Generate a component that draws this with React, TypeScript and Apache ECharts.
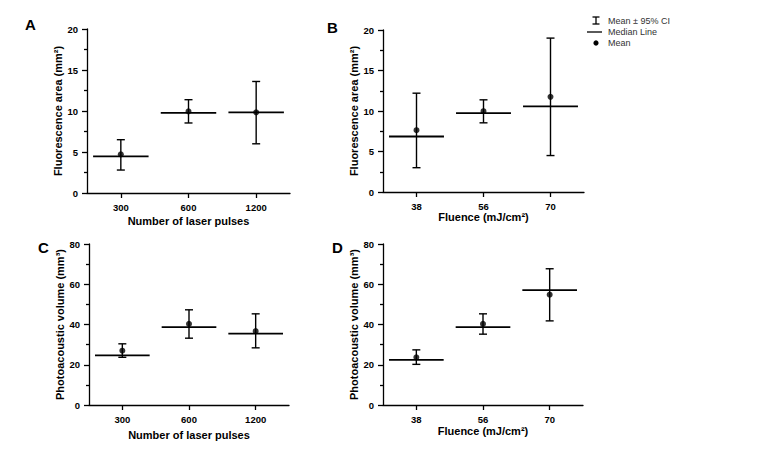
import React, { useEffect, useRef } from "react";
import * as echarts from "echarts";

// ---- Data ----
const pulseCategories = ["300", "600", "1200"];
const fluenceCategories = ["38", "56", "70"];

// Panel A: Fluorescence area vs number of pulses
const aMean = [4.72, 9.96, 9.84];
const aLow = [2.8, 8.54, 6.0];
const aHigh = [6.5, 11.38, 13.6];
const aMedian = [4.47, 9.76, 9.84];

// Panel B: Fluorescence area vs fluence
const bMean = [7.63, 9.98, 11.75];
const bLow = [3.0, 8.54, 4.5];
const bHigh = [12.2, 11.38, 19.0];
const bMedian = [6.85, 9.73, 10.56];

// Panel C: Photoacoustic volume vs number of pulses
const cMean = [27.0, 40.3, 36.7];
const cLow = [23.7, 33.2, 28.4];
const cHigh = [30.4, 47.3, 45.3];
const cMedian = [24.7, 38.7, 35.5];

// Panel D: Photoacoustic volume vs fluence
const dMean = [23.7, 40.3, 54.8];
const dLow = [20.2, 35.2, 41.8];
const dHigh = [27.4, 45.3, 67.7];
const dMedian = [22.4, 38.7, 57.1];

const areaTicks = { max: 20, interval: 5 };
const volumeTicks = { max: 80, interval: 20 };

const FONT = "Liberation Sans, Arial, sans-serif";

type Panel = {
  letter: string;
  cats: string[];
  mean: number[];
  low: number[];
  high: number[];
  median: number[];
  yName: string;
  xName: string;
  ticks: { max: number; interval: number };
  grid: { left: number; top: number; width: number; height: number };
  xNameGap: number;
  letterPos: [number, number];
};

const panels: Panel[] = [
  {
    letter: "A", cats: pulseCategories, mean: aMean, low: aLow, high: aHigh, median: aMedian,
    yName: "Fluorescence area (mm²)", xName: "Number of laser pulses", ticks: areaTicks,
    grid: { left: 87, top: 29, width: 203, height: 164 }, xNameGap: 22, letterPos: [25, 17],
  },
  {
    letter: "B", cats: fluenceCategories, mean: bMean, low: bLow, high: bHigh, median: bMedian,
    yName: "Fluorescence area (mm²)", xName: "Fluence (mJ/cm²)", ticks: areaTicks,
    grid: { left: 383, top: 30, width: 201, height: 162 }, xNameGap: 14.5, letterPos: [327, 20],
  },
  {
    letter: "C", cats: pulseCategories, mean: cMean, low: cLow, high: cHigh, median: cMedian,
    yName: "Photoacoustic volume (mm³)", xName: "Number of laser pulses", ticks: volumeTicks,
    grid: { left: 89, top: 244, width: 200, height: 161 }, xNameGap: 24, letterPos: [38, 240],
  },
  {
    letter: "D", cats: fluenceCategories, mean: dMean, low: dLow, high: dHigh, median: dMedian,
    yName: "Photoacoustic volume (mm³)", xName: "Fluence (mJ/cm²)", ticks: volumeTicks,
    grid: { left: 383, top: 244, width: 200, height: 161 }, xNameGap: 20, letterPos: [332, 240],
  },
];

export default function App() {
  const ref = useRef<HTMLDivElement>(null);

  useEffect(() => {
    document.body.style.margin = "0";
    if (!ref.current) return;
    const chart = echarts.init(ref.current, null, { renderer: "svg" });

    const grids: any[] = [];
    const xAxes: any[] = [];
    const yAxes: any[] = [];
    const series: any[] = [];
    const graphics: any[] = [];

    panels.forEach((p, i) => {
      grids.push({ ...p.grid, containLabel: false });
      xAxes.push({
        type: "category",
        gridIndex: i,
        data: p.cats,
        boundaryGap: true,
        name: p.xName,
        nameLocation: "middle",
        nameGap: p.xNameGap,
        nameTextStyle: { color: "#000", fontWeight: "bold", fontSize: 11, fontFamily: FONT },
        axisLine: { show: true, lineStyle: { color: "#000", width: 1.3 } },
        axisTick: { show: true, alignWithLabel: true, length: 5, lineStyle: { color: "#000", width: 1.3 } },
        axisLabel: { color: "#000", fontWeight: "bold", fontSize: 9.5, fontFamily: FONT, margin: 9 },
        splitLine: { show: false },
      });
      yAxes.push({
        type: "value",
        gridIndex: i,
        min: 0,
        max: p.ticks.max,
        interval: p.ticks.interval,
        name: p.yName,
        nameLocation: "middle",
        nameGap: 23,
        nameTextStyle: { color: "#000", fontWeight: "bold", fontSize: 11, fontFamily: FONT },
        axisLine: { show: true, lineStyle: { color: "#000", width: 1.3 } },
        axisTick: { show: true, length: 5, lineStyle: { color: "#000", width: 1.3 } },
        minorTick: { show: true, splitNumber: 2, length: 3, lineStyle: { color: "#000", width: 1.3 } },
        axisLabel: { color: "#000", fontWeight: "bold", fontSize: 9.5, fontFamily: FONT, margin: 9 },
        splitLine: { show: false },
        minorSplitLine: { show: false },
      });

      const errData = p.cats.map((_, k) => [k, p.low[k], p.high[k], p.median[k]]);
      series.push({
        type: "custom",
        xAxisIndex: i,
        yAxisIndex: i,
        data: errData,
        encode: { x: 0, y: [1, 2, 3] },
        silent: true,
        renderItem: (params: any, api: any) => {
          const x = api.value(0);
          const lo = api.coord([x, api.value(1)]);
          const hi = api.coord([x, api.value(2)]);
          const med = api.coord([x, api.value(3)]);
          const band = api.size([1, 0])[0];
          const half = band * 0.41;
          const cap = 4;
          const ls = { stroke: "#000", lineWidth: 1.4 };
          return {
            type: "group",
            children: [
              { type: "line", shape: { x1: hi[0], y1: hi[1], x2: lo[0], y2: lo[1] }, style: ls },
              { type: "line", shape: { x1: hi[0] - cap, y1: hi[1], x2: hi[0] + cap, y2: hi[1] }, style: ls },
              { type: "line", shape: { x1: lo[0] - cap, y1: lo[1], x2: lo[0] + cap, y2: lo[1] }, style: ls },
              { type: "line", shape: { x1: med[0] - half, y1: med[1], x2: med[0] + half, y2: med[1] }, style: { stroke: "#000", lineWidth: 1.8 } },
            ],
          };
        },
        z: 2,
      });
      series.push({
        type: "scatter",
        xAxisIndex: i,
        yAxisIndex: i,
        data: p.cats.map((_, k) => [k, p.mean[k]]),
        symbol: "circle",
        symbolSize: 6,
        itemStyle: { color: "#000" },
        z: 3,
      });

      graphics.push({
        type: "text",
        left: p.letterPos[0],
        top: p.letterPos[1],
        style: { text: p.letter, font: `bold 15px ${FONT}`, fill: "#000" },
      });
    });

    // Legend
    const lx = 596;
    graphics.push(
      { type: "line", shape: { x1: lx, y1: 17, x2: lx, y2: 24 }, style: { stroke: "#000", lineWidth: 1.3 } },
      { type: "line", shape: { x1: lx - 3.5, y1: 17, x2: lx + 3.5, y2: 17 }, style: { stroke: "#000", lineWidth: 1.3 } },
      { type: "line", shape: { x1: lx - 3.5, y1: 24, x2: lx + 3.5, y2: 24 }, style: { stroke: "#000", lineWidth: 1.3 } },
      { type: "line", shape: { x1: 587, y1: 32, x2: 602, y2: 32 }, style: { stroke: "#000", lineWidth: 1.3 } },
      { type: "circle", shape: { cx: lx, cy: 43, r: 2.6 }, style: { fill: "#000" } },
      { type: "text", x: 608, y: 20.5, style: { text: "Mean ± 95% CI", font: `9px ${FONT}`, fill: "#333", verticalAlign: "middle" } },
      { type: "text", x: 608, y: 32, style: { text: "Median Line", font: `9px ${FONT}`, fill: "#333", verticalAlign: "middle" } },
      { type: "text", x: 608, y: 43, style: { text: "Mean", font: `9px ${FONT}`, fill: "#333", verticalAlign: "middle" } },
    );

    chart.setOption({
      animation: false,
      backgroundColor: "#fff",
      grid: grids,
      xAxis: xAxes,
      yAxis: yAxes,
      series,
      graphic: graphics,
    });

    return () => chart.dispose();
  }, []);

  return <div ref={ref} style={{ width: 757, height: 454 }} />;
}
